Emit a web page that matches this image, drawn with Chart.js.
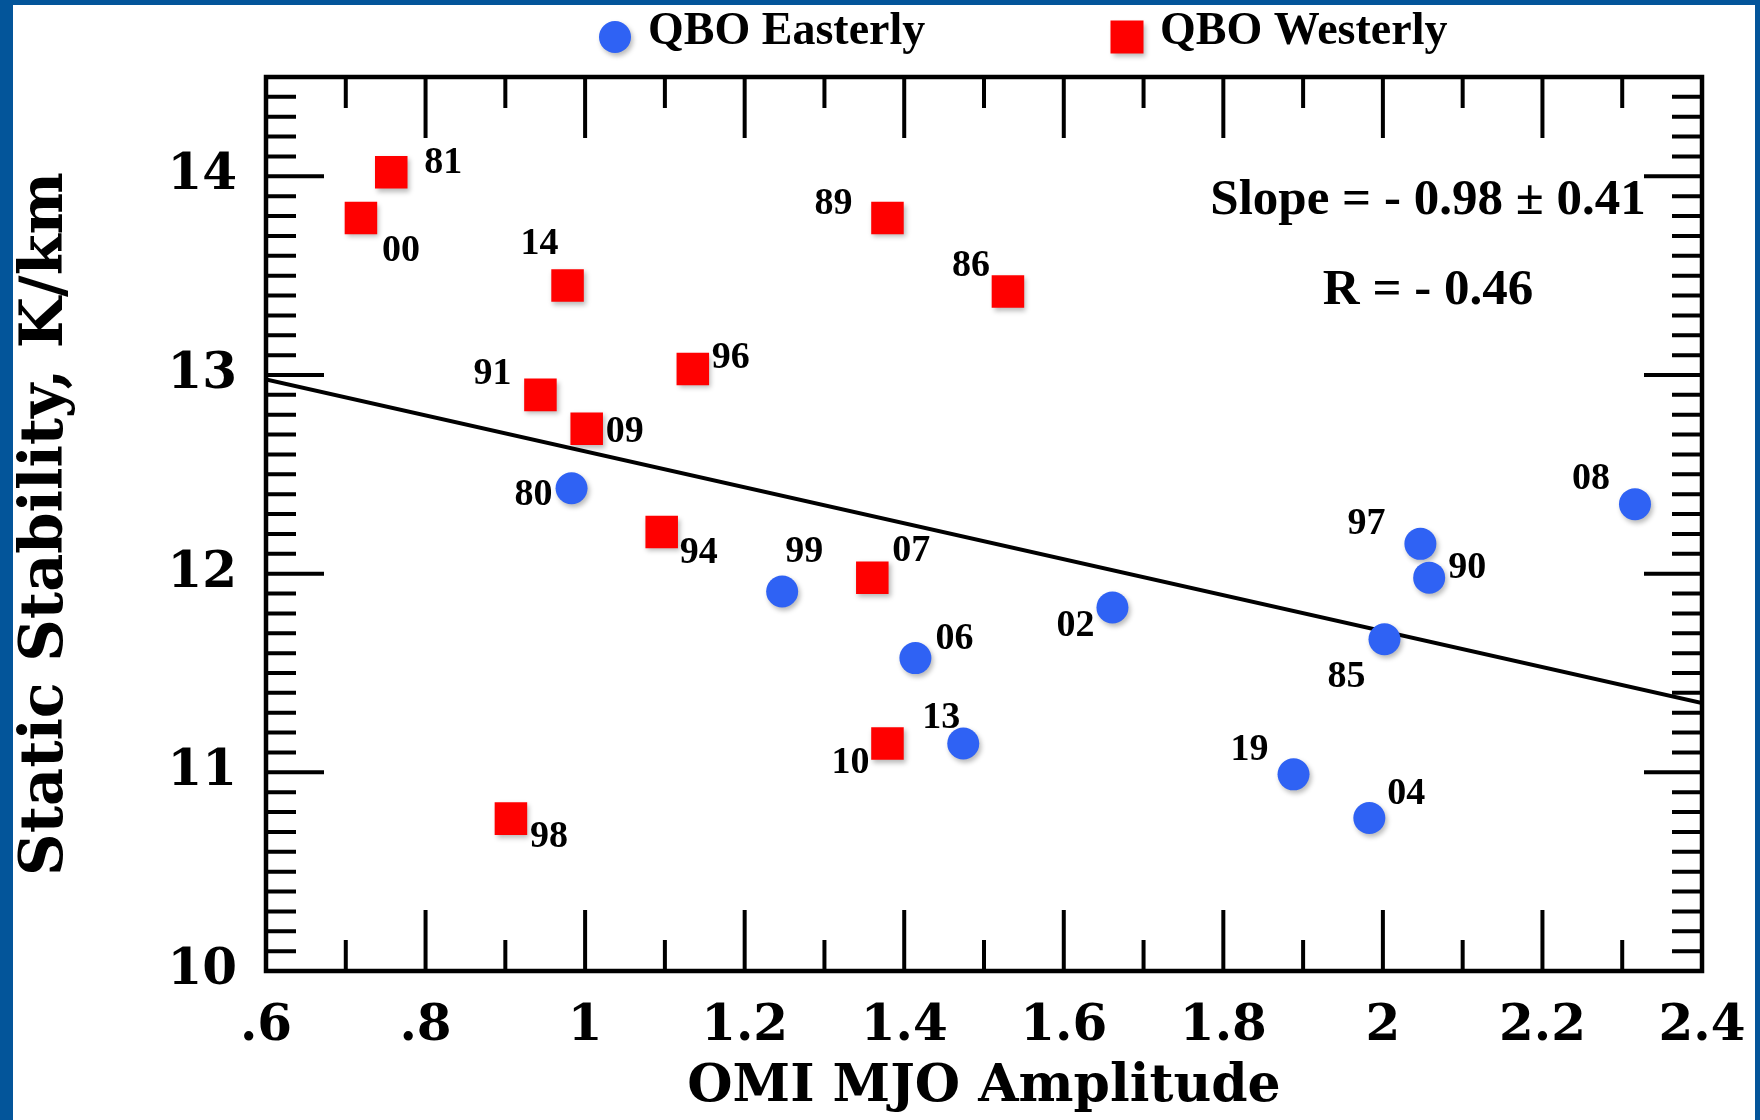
<!DOCTYPE html>
<html>
<head>
<meta charset="utf-8">
<script src="https://cdn.jsdelivr.net/npm/chart.js@4.4.1/dist/chart.umd.min.js"></script>
<style>
  html, body { margin: 0; padding: 0; background: #03559a; }
  #hoja { position: absolute; left: 13px; top: 5px; width: 1742px; height: 1115px; background: #fff; }
  #grafico { position: absolute; left: 0; top: 0; }
</style>
</head>
<body>
<div id="hoja"></div>
<canvas id="grafico" width="1760" height="1120"></canvas>
<script>
// QBO easterly winters
const añosEste = ['80', '99', '06', '13', '02', '19', '04', '85', '97', '90', '08'];
const ampEste = [0.983, 1.247, 1.414, 1.474, 1.661, 1.888, 1.983, 2.002, 2.047, 2.058, 2.316];
const estabEste = [12.43, 11.91, 11.575, 11.145, 11.83, 10.99, 10.77, 11.67, 12.15, 11.98, 12.35];

// QBO westerly winters
const añosOeste = ['81', '00', '14', '89', '86', '96', '91', '09', '94', '07', '10', '98'];
const ampOeste = [0.757, 0.719, 0.978, 1.379, 1.530, 1.135, 0.944, 1.002, 1.096, 1.360, 1.379, 0.907];
const estabOeste = [14.02, 13.79, 13.45, 13.79, 13.42, 13.03, 12.90, 12.73, 12.21, 11.98, 11.145, 10.767];

// regression line ends
const rectaX = [0.6, 2.4];
const rectaY = [12.978, 11.349];

const textosAjuste = ['Slope = - 0.98 \u00b1 0.41', 'R = - 0.46'];

// where each year label sits relative to its marker (px)
const desplazamiento = {
  '81': [52, -9], '00': [40, 33], '14': [-28, -41], '89': [-54, -14], '86': [-37, -25],
  '96': [38, -11], '91': [-48, -21], '09': [38, 4], '94': [37, 21], '07': [39, -26],
  '10': [-37, 20], '98': [38, 19],
  '80': [-38, 7], '99': [22, -39], '06': [39, -19], '13': [-22, -25], '02': [-37, 19],
  '19': [-44, -24], '04': [37, -24], '85': [-38, 38], '97': [-54, -20], '90': [38, -9],
  '08': [-44, -25]
};

const fuenteTimes = '"Liberation Serif", "Times New Roman", serif';
const fuenteEjes = '"DejaVu Serif", serif';

function puntos(xs, ys) {
  return xs.map((x, i) => ({ x, y: ys[i] }));
}

const sombra = {
  id: 'sombra',
  beforeDatasetDraw(chart, args) {
    if (args.index > 1) return;
    const ctx = chart.ctx;
    ctx.save();
    ctx.shadowColor = 'rgba(0,0,0,0.28)';
    ctx.shadowBlur = 5;
    ctx.shadowOffsetX = 2;
    ctx.shadowOffsetY = 3;
  },
  afterDatasetDraw(chart, args) {
    if (args.index > 1) return;
    chart.ctx.restore();
  }
};

const marco = {
  id: 'marco',
  beforeDatasetsDraw(chart) {
    const { ctx, chartArea: a, scales } = chart;
    const sx = scales.x, sy = scales.y;
    ctx.save();
    ctx.strokeStyle = '#000';
    ctx.lineWidth = 4;
    ctx.beginPath();
    for (let k = Math.round(sx.min * 10) + 1; k < Math.round(sx.max * 10); k++) {
      const px = sx.getPixelForValue(k / 10);
      const largo = k % 2 === 0 ? 61 : 31;
      ctx.moveTo(px, a.bottom); ctx.lineTo(px, a.bottom - largo);
      ctx.moveTo(px, a.top); ctx.lineTo(px, a.top + largo);
    }
    for (let k = Math.round(sy.min * 10) + 1; k < Math.round(sy.max * 10); k++) {
      const py = sy.getPixelForValue(k / 10);
      const largo = k % 10 === 0 ? 58 : 30;
      ctx.moveTo(a.left, py); ctx.lineTo(a.left + largo, py);
      ctx.moveTo(a.right, py); ctx.lineTo(a.right - largo, py);
    }
    ctx.stroke();
    ctx.lineWidth = 4.5;
    ctx.strokeRect(a.left, a.top, a.right - a.left, a.bottom - a.top);
    ctx.restore();
  }
};

const etiquetas = {
  id: 'etiquetas',
  afterDatasetsDraw(chart) {
    const ctx = chart.ctx;
    ctx.save();
    ctx.fillStyle = '#000';
    ctx.font = 'bold 38px ' + fuenteTimes;
    ctx.textAlign = 'center';
    ctx.textBaseline = 'middle';
    [0, 1].forEach(d => {
      const ds = chart.data.datasets[d];
      chart.getDatasetMeta(d).data.forEach((p, i) => {
        const año = ds.años[i];
        const off = desplazamiento[año] || [30, -20];
        ctx.fillText(año, p.x + off[0], p.y + off[1]);
      });
    });
    ctx.font = 'bold 51px ' + fuenteTimes;
    ctx.textBaseline = 'alphabetic';
    ctx.fillText(textosAjuste[0], 1428, 214);
    ctx.fillText(textosAjuste[1], 1428, 304);
    ctx.restore();
  }
};

const leyenda = {
  id: 'leyenda',
  afterDraw(chart) {
    const ctx = chart.ctx;
    const items = [
      { ds: chart.data.datasets[0], cx: 615, tx: 648 },
      { ds: chart.data.datasets[1], cx: 1127, tx: 1160 }
    ];
    ctx.save();
    items.forEach(it => {
      ctx.save();
      ctx.shadowColor = 'rgba(0,0,0,0.28)';
      ctx.shadowBlur = 5;
      ctx.shadowOffsetX = 2;
      ctx.shadowOffsetY = 3;
      ctx.fillStyle = it.ds.backgroundColor;
      if (it.ds.pointStyle === 'rect') {
        ctx.fillRect(it.cx - 16.5, 37 - 16.5, 33, 33);
      } else {
        ctx.beginPath();
        ctx.arc(it.cx, 37, 16, 0, Math.PI * 2);
        ctx.fill();
      }
      ctx.restore();
      ctx.fillStyle = '#000';
      ctx.font = 'bold 46px ' + fuenteTimes;
      ctx.textAlign = 'left';
      ctx.textBaseline = 'alphabetic';
      ctx.fillText(it.ds.label, it.tx, 44);
    });
    ctx.restore();
  }
};

new Chart(document.getElementById('grafico'), {
  type: 'scatter',
  data: {
    datasets: [
      {
        label: 'QBO Easterly',
        años: añosEste,
        data: puntos(ampEste, estabEste),
        backgroundColor: '#2f62f4',
        borderWidth: 0,
        pointStyle: 'circle',
        pointRadius: 16
      },
      {
        label: 'QBO Westerly',
        años: añosOeste,
        data: puntos(ampOeste, estabOeste),
        backgroundColor: '#ff0000',
        borderWidth: 0,
        pointStyle: 'rect',
        pointRadius: 23
      },
      {
        label: 'Ajuste',
        data: puntos(rectaX, rectaY),
        showLine: true,
        borderColor: '#000',
        borderWidth: 4,
        pointRadius: 0
      }
    ]
  },
  options: {
    responsive: false,
    animation: false,
    devicePixelRatio: 1,
    layout: { padding: { top: 77, right: 58, bottom: 0, left: 0 } },
    plugins: {
      legend: { display: false },
      tooltip: { enabled: false }
    },
    scales: {
      x: {
        type: 'linear',
        min: 0.6,
        max: 2.4,
        grid: { display: false, drawTicks: false },
        border: { display: false },
        ticks: {
          stepSize: 0.2,
          padding: 26,
          color: '#000',
          font: { family: fuenteEjes, size: 50, weight: 'bold' },
          callback: v => (+v.toFixed(1)).toString().replace(/^0\./, '.')
        },
        title: {
          display: true,
          text: 'OMI MJO Amplitude',
          color: '#000',
          font: { family: fuenteEjes, size: 52, weight: 'bold' },
          padding: { top: 0, bottom: 1 }
        },
        afterFit: s => {
          s.height = 149;
          s.paddingLeft = 0;
          s.paddingRight = 0;
        }
      },
      y: {
        type: 'linear',
        min: 10,
        max: 14.5,
        grid: { display: false, drawTicks: false },
        border: { display: false },
        ticks: {
          stepSize: 1,
          includeBounds: false,
          padding: 29,
          color: '#000',
          font: { family: fuenteEjes, size: 50, weight: 'bold' }
        },
        title: {
          display: true,
          text: 'Static Stability, K/km',
          color: '#000',
          font: { family: fuenteEjes, size: 59, weight: 'bold' },
          padding: { top: 11, bottom: 0 }
        },
        afterFit: s => { s.width = 266; }
      }
    }
  },
  plugins: [marco, sombra, etiquetas, leyenda]
});
</script>
</body>
</html>
